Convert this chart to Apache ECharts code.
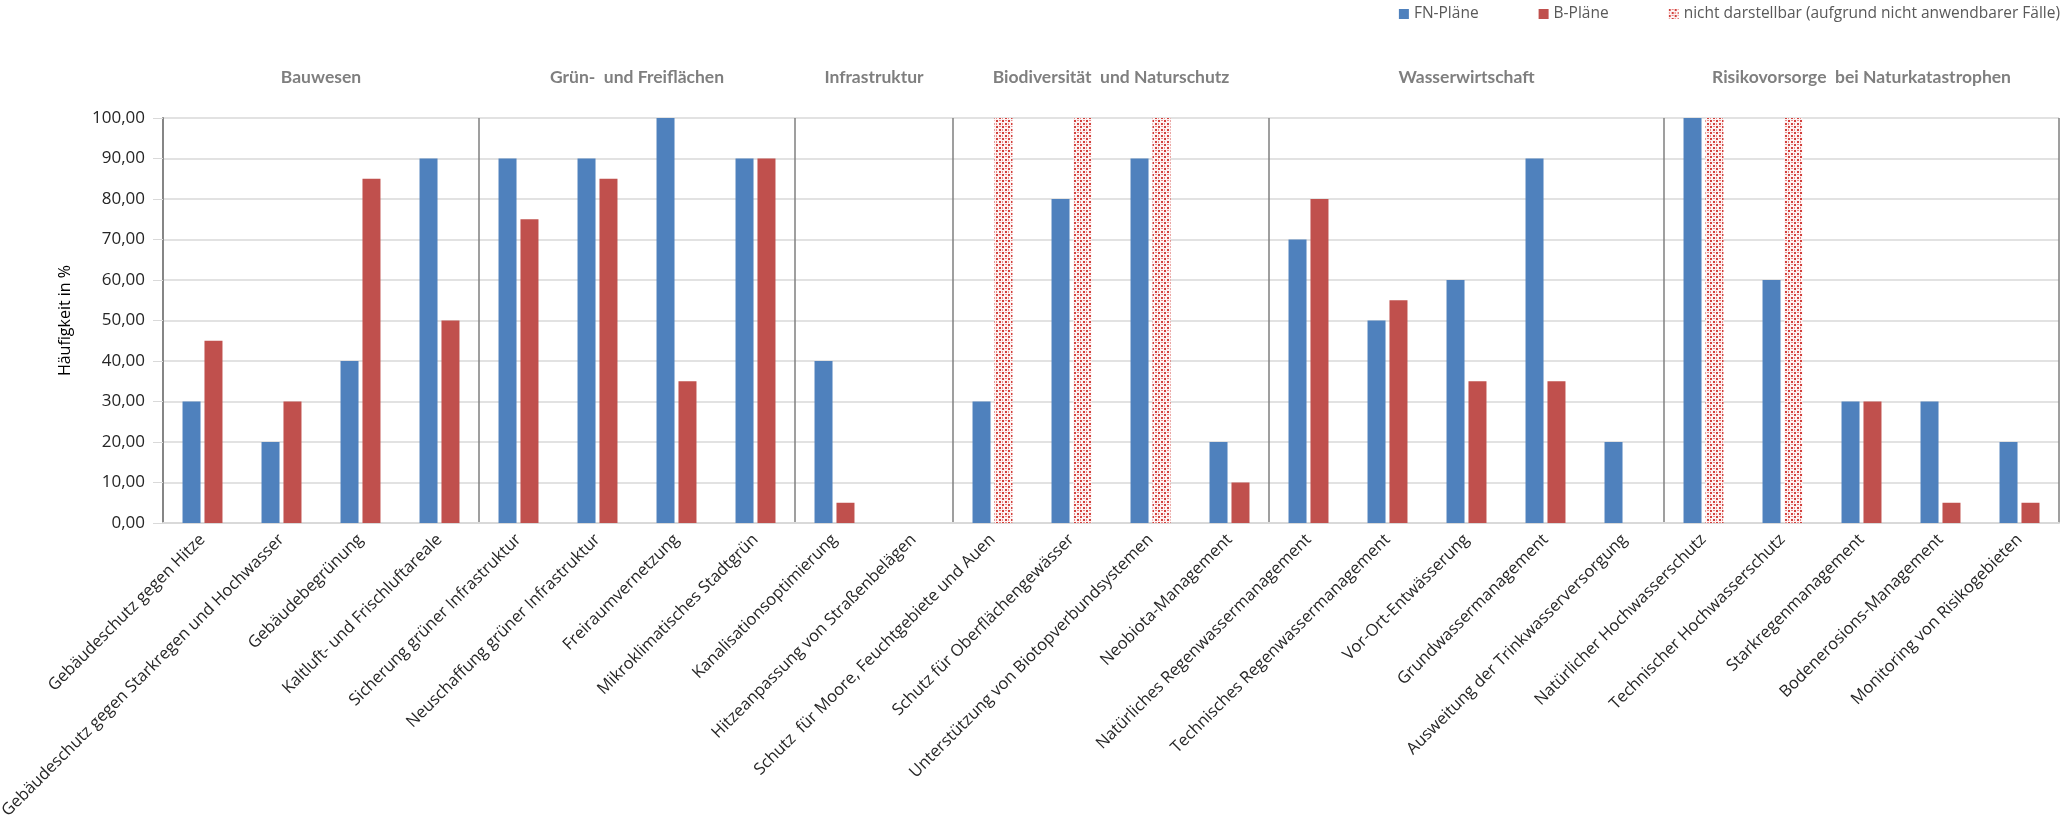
<!DOCTYPE html>
<html>
<head>
<meta charset="utf-8">
<script src="https://cdn.jsdelivr.net/npm/echarts@6/dist/echarts.min.js"></script>
<style>
html,body{margin:0;padding:0;background:#fff;}
#chart{width:2067px;height:826px;}
</style>
</head>
<body>
<div id="chart"></div>
<script>
const categories = [
  'Gebäudeschutz gegen Hitze',
  'Gebäudeschutz gegen Starkregen und Hochwasser',
  'Gebäudebegrünung',
  'Kaltluft- und Frischluftareale',
  'Sicherung grüner Infrastruktur',
  'Neuschaffung grüner Infrastruktur',
  'Freiraumvernetzung',
  'Mikroklimatisches Stadtgrün',
  'Kanalisationsoptimierung',
  'Hitzeanpassung von Straßenbelägen',
  'Schutz  für Moore, Feuchtgebiete und Auen',
  'Schutz für Oberflächengewässer',
  'Unterstützung von Biotopverbundsystemen',
  'Neobiota-Management',
  'Natürliches Regenwassermanagement',
  'Technisches Regenwassermanagement',
  'Vor-Ort-Entwässerung',
  'Grundwassermanagement',
  'Ausweitung der Trinkwasserversorgung',
  'Natürlicher Hochwasserschutz',
  'Technischer Hochwasserschutz',
  'Starkregenmanagement',
  'Bodenerosions-Management',
  'Monitoring von Risikogebieten'
];
const fnValues = [30, 20, 40, 90, 90, 90, 100, 90, 40, null, 30, 80, 90, 20, 70, 50, 60, 90, 20, 100, 60, 30, 30, 20];
const bValues  = [45, 30, 85, 50, 75, 85, 35, 90, 5, null, null, null, null, 10, 80, 55, 35, 35, null, null, null, 30, 5, 5];
const naValues = [null, null, null, null, null, null, null, null, null, null, 100, 100, 100, null, null, null, null, null, null, 100, 100, null, null, null];
const groupNames = ['Bauwesen', 'Grün-  und Freiflächen', 'Infrastruktur', 'Biodiversität  und Naturschutz', 'Wasserwirtschaft', 'Risikovorsorge  bei Naturkatastrophen'];
const groupSizes = [4, 4, 2, 4, 5, 5];
const seriesNames = ['FN-Pläne', 'B-Pläne', 'nicht darstellbar (aufgrund nicht anwendbarer Fälle)'];

// boundaries between groups (category index where a new group starts)
const boundaries = [];
{ let acc = 0; groupSizes.forEach((s, i) => { acc += s; if (i < groupSizes.length - 1) boundaries.push(acc); }); }

// dotted pattern for the "nicht darstellbar" bars
const pc = document.createElement('canvas');
pc.width = 6; pc.height = 6;
const px = pc.getContext('2d');
px.fillStyle = '#fdf3f3'; px.fillRect(0, 0, 6, 6);
px.fillStyle = '#d2403c';
px.fillRect(0, 0, 2, 2);
px.fillRect(3, 3, 2, 2);
px.fillStyle = '#e98a87';
px.fillRect(3, 0, 2, 1);
px.fillRect(0, 3, 1, 2);
const pattern = { image: pc, repeat: 'repeat' };

const chart = echarts.init(document.getElementById('chart'), null, { renderer: 'canvas' });
const FONT = '"Open Sans", "Noto Sans", sans-serif';

const option = {
  animation: false,
  backgroundColor: '#ffffff',
  textStyle: { fontFamily: FONT },
  legend: {
    right: 2,
    top: 1,
    itemWidth: 10,
    itemHeight: 10,
    itemGap: 60,
    icon: 'rect',
    textStyle: { fontFamily: FONT, fontSize: 15.5, color: '#595959' },
    data: seriesNames
  },
  grid: { left: 163, right: 8, top: 118, bottom: 303, containLabel: false, outerBoundsMode: 'none' },
  xAxis: {
    type: 'category',
    data: categories,
    boundaryGap: true,
    axisLine: { show: true, lineStyle: { color: '#d9d9d9', width: 2 } },
    axisTick: { show: false },
    axisLabel: {
      interval: 0,
      rotate: 45,
      margin: 14,
      fontFamily: FONT,
      fontSize: 16.5,
      color: '#262626'
    },
    splitLine: {
      show: true,
      interval: function (index) { return boundaries.indexOf(index) >= 0; },
      lineStyle: { color: '#7f7f7f', width: 1.5 }
    }
  },
  yAxis: {
    type: 'value',
    min: 0,
    max: 100,
    interval: 10,
    name: 'Häufigkeit in %',
    nameLocation: 'middle',
    nameGap: 90,
    nameTextStyle: { fontFamily: FONT, fontSize: 16, color: '#000000' },
    axisLine: { show: true, lineStyle: { color: '#868686', width: 2 } },
    axisTick: { show: true, length: 10, lineStyle: { color: '#d9d9d9' } },
    axisLabel: {
      margin: 18,
      fontFamily: FONT,
      fontSize: 17,
      color: '#262626',
      formatter: v => v.toFixed(2).replace('.', ',')
    },
    splitLine: { show: true, lineStyle: { color: '#d9d9d9', width: 1.5 } }
  },
  series: [
    {
      name: seriesNames[0],
      type: 'bar',
      data: fnValues,
      barWidth: 18,
      barGap: '22%',
      itemStyle: { color: '#4f81bd' }
    },
    {
      name: seriesNames[1],
      type: 'bar',
      stack: 'b',
      data: bValues,
      barWidth: 18,
      itemStyle: { color: '#c0504d' }
    },
    {
      name: seriesNames[2],
      type: 'bar',
      stack: 'b',
      data: naValues,
      barWidth: 18,
      itemStyle: { color: pattern }
    }
  ]
};
chart.setOption(option);

// group titles centred above each group
const titles = [];
let start = 0;
groupSizes.forEach((s, i) => {
  const x0 = chart.convertToPixel({ xAxisIndex: 0 }, categories[start]);
  const x1 = chart.convertToPixel({ xAxisIndex: 0 }, categories[start + s - 1]);
  titles.push({
    type: 'text',
    x: (x0 + x1) / 2,
    y: 77,
    style: {
      text: groupNames[i],
      fill: '#7f7f7f',
      font: 'bold 17.5px Lato, "Open Sans", sans-serif',
      textAlign: 'center',
      textVerticalAlign: 'middle'
    }
  });
  start += s;
});
chart.setOption({ graphic: titles });
</script>
</body>
</html>
